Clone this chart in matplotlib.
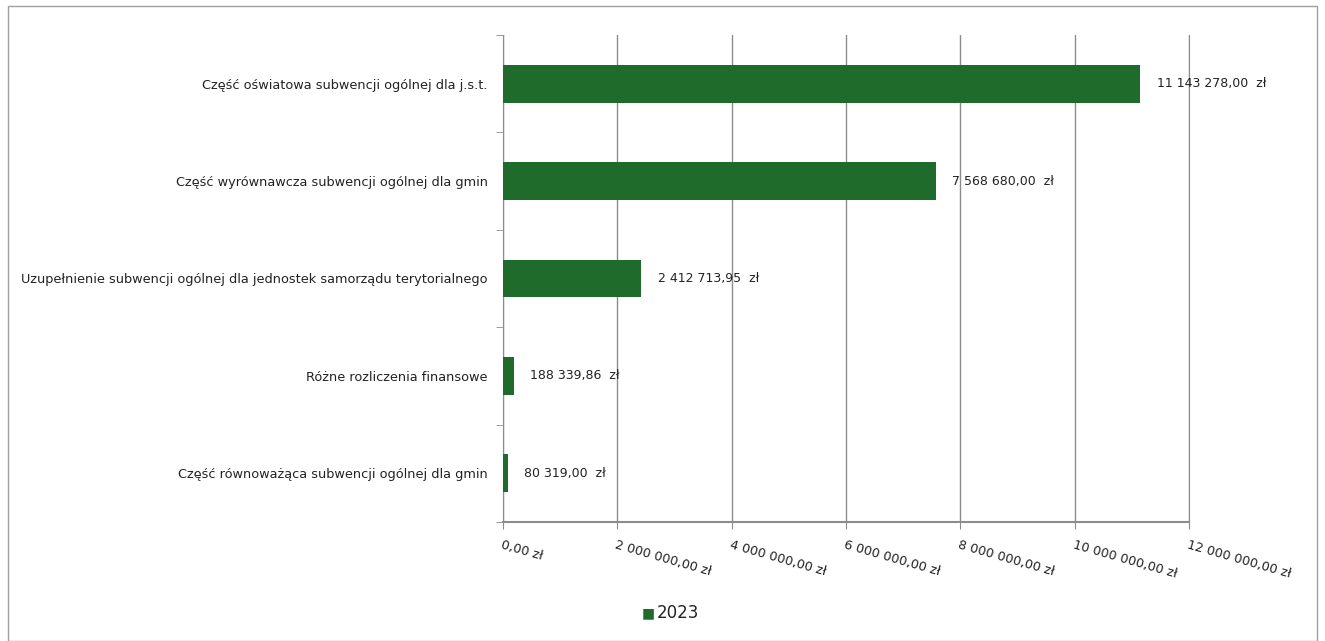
import numpy as np
import matplotlib.pyplot as plt
from matplotlib.patches import Rectangle

# Dane
kategorie = [
    "Część oświatowa subwencji ogólnej dla j.s.t.",
    "Część wyrównawcza subwencji ogólnej dla gmin",
    "Uzupełnienie subwencji ogólnej dla jednostek samorządu terytorialnego",
    "Różne rozliczenia finansowe",
    "Część równoważąca subwencji ogólnej dla gmin",
]
wartosci = [11143278.00, 7568680.00, 2412713.95, 188339.86, 80319.00]
etykiety = ["11 143 278,00  zł", "7 568 680,00  zł", "2 412 713,95  zł",
            "188 339,86  zł", "80 319,00  zł"]
ticki_x = [0, 2e6, 4e6, 6e6, 8e6, 10e6, 12e6]
ticki_x_etykiety = ["0,00 zł", "2 000 000,00 zł", "4 000 000,00 zł", "6 000 000,00 zł",
                    "8 000 000,00 zł", "10 000 000,00 zł", "12 000 000,00 zł"]
seria = "2023"

kolor = "#1e6b2c"
szary = "#8c8c8c"
tekst = "#222222"

plt.rcParams['font.family'] = ['DejaVu Sans']

fig = plt.figure(figsize=(13.25, 6.41), dpi=100)
ax = fig.add_axes([503 / 1325, 1 - 522 / 641, (1189 - 503) / 1325, (522 - 35) / 641])

y = np.arange(len(kategorie))[::-1]
ax.barh(y, wartosci, height=0.39, color=kolor, zorder=3)

# etykiety wartości przy słupkach
for yi, w, e in zip(y, wartosci, etykiety):
    ax.annotate(e, (w, yi), xytext=(12, 0), textcoords='offset points',
                va='center', ha='left', fontsize=9, color=tekst, zorder=4)

ax.set_xlim(0, 12e6)
ax.set_ylim(-0.5, len(kategorie) - 0.5)
ax.set_xticks(ticki_x)
ax.set_xticklabels(ticki_x_etykiety, rotation=-16, ha='left', va='top',
                   rotation_mode='anchor', fontsize=9.2, color=tekst)
ax.set_yticks(y)
ax.set_yticklabels(kategorie, fontsize=9.3, color=tekst)
ax.set_yticks(np.arange(-0.5, len(kategorie)), minor=True)
ax.tick_params(axis='y', which='major', length=0, pad=11)
ax.tick_params(axis='y', which='minor', length=5, color=szary, direction='out')
ax.tick_params(axis='x', length=5, color=szary, direction='out', pad=7)

ax.grid(axis='x', color=szary, linewidth=1, zorder=0)
ax.spines['top'].set_visible(False)
for s in ['left', 'right']:
    ax.spines[s].set_color(szary)
ax.spines['bottom'].set_color(szary)
ax.spines['bottom'].set_linewidth(1.5)

# Legenda
fig.text(0.489, 1 - 613 / 641, "\u25A0", color=kolor, fontsize=10, ha='center', va='center')
fig.text(0.4955, 1 - 613 / 641, seria, color=tekst, fontsize=12, ha='left', va='center')

# Ramka
fig.patches.append(Rectangle((8 / 1325, 0.0), 1 - 16 / 1325, 1 - 6 / 641,
                             transform=fig.transFigure, fill=False,
                             edgecolor='#a0a0a0', linewidth=1))

fig.savefig("out.png", dpi=100)
